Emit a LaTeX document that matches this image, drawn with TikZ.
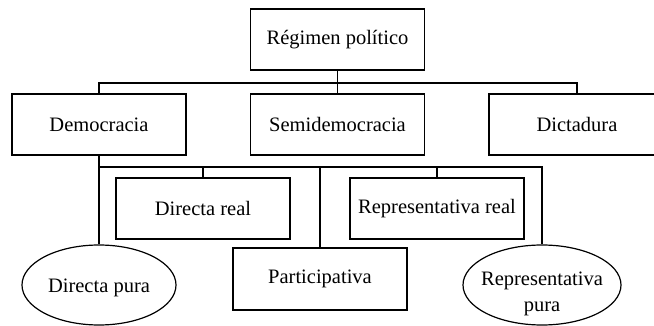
\documentclass[tikz,border=0pt]{standalone}
\usepackage{fontspec}
\setmainfont{Liberation Serif}
\usetikzlibrary{shapes.geometric}
\begin{document}
\begin{tikzpicture}[x=1pt,y=-1pt,line width=1.2pt,
  box node/.style={rectangle,draw,minimum width=174pt,minimum height=61pt,inner sep=0pt,font=\fontsize{20.5}{26}\selectfont},
  oval node/.style={ellipse,draw,minimum width=156pt,minimum height=80pt,inner sep=0pt},
  label node/.style={align=center,inner sep=0pt,font=\fontsize{20.5}{26}\selectfont}]
\clip (0,0) rectangle (654,326);
\node[box node] (root) at (337.5,39.5) {Régimen político};
\node[box node] (dem) at (99,124.5) {Democracia};
\node[box node] (semi) at (337.5,124.5) {Semidemocracia};
\node[box node,minimum width=176pt] (dic) at (577,124.5) {Dictadura};

\node[box node] (dreal) at (203,208.5) {Directa real};
\node[box node] (rreal) at (437,208.5) {Representativa real};
\node[box node,minimum height=62pt] (part) at (320,279) {Participativa};
\node[oval node,minimum width=154pt] (dpura) at (99,285) {};
\node[label node] (dpuratxt) at (99,288) {Directa pura};
\node[oval node,minimum width=158pt] (rpura) at (542,285) {};
\node[label node] (rpuratxt) at (542,294) {Representativa\\pura};

\coordinate (b1) at (337.5,83);
\coordinate (b2) at (320,167);

\draw (root.south) -- (b1);
\draw (dem.north) |- (b1) -| (dic.north);
\draw (b1) -- (semi.north);

\draw (dem.south) -- (dpura.north);
\draw (dem.south |- b2) -| (rpura.north);
\draw (dreal.north) -- (dreal.north |- b2);
\draw (b2) -- (part.north);
\draw (rreal.north) -- (rreal.north |- b2);

\end{tikzpicture}
\end{document}
